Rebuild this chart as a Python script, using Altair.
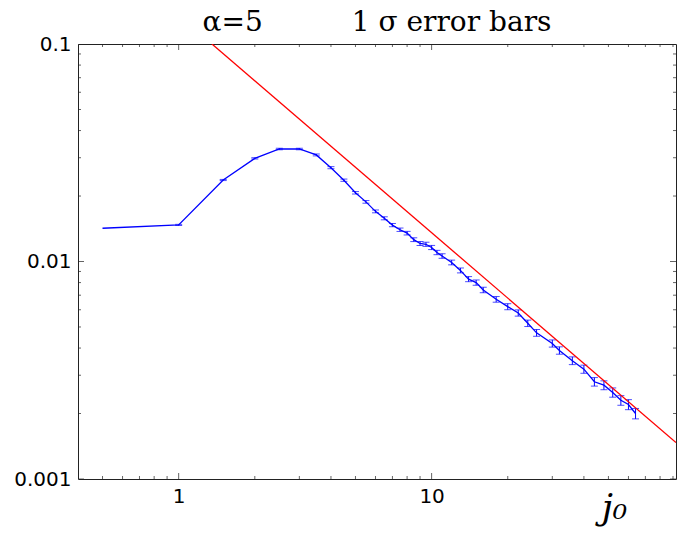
import altair as alt
import pandas as pd

# blue series: j0 and value, relative 1-sigma errors
j0 = [0.5, 1, 1.5, 2, 2.5, 3, 3.5, 4, 4.5, 5, 5.5, 6, 6.5, 7, 7.5, 8, 8.5, 9, 9.5, 10,
      10.5, 11, 12, 13, 14, 15, 16, 18, 20, 22, 24, 26, 30, 32, 36, 40, 44, 48, 52, 56, 60, 64]
value = [0.01422, 0.01473, 0.0237, 0.0298, 0.0329, 0.0329, 0.0309, 0.0270, 0.02365, 0.0207,
         0.0188, 0.0170, 0.0158, 0.0147, 0.0140, 0.0135, 0.0126, 0.0121, 0.0120, 0.0116,
         0.0110, 0.0106, 0.0099, 0.0091, 0.0083, 0.0080, 0.0074, 0.0067, 0.0062, 0.0058,
         0.0052, 0.0047, 0.0042, 0.0039, 0.0035, 0.0032, 0.0028, 0.0027, 0.0025, 0.0023,
         0.0022, 0.0020]
rel_err = [0.0, 0.006, 0.006, 0.007, 0.008, 0.008, 0.010, 0.011, 0.012, 0.013,
           0.014, 0.015, 0.016, 0.017, 0.018, 0.019, 0.020, 0.021, 0.022, 0.022,
           0.023, 0.024, 0.025, 0.026, 0.027, 0.028, 0.029, 0.030, 0.032, 0.033,
           0.034, 0.036, 0.038, 0.039, 0.041, 0.043, 0.045, 0.047, 0.049, 0.051,
           0.053, 0.055]

# red reference line end points
ref_x = [1.354, 92.5]
ref_y = [0.1, 0.00147]

# tick positions
x_major = [1, 10]
x_minor = [0.4, 0.5, 0.6, 0.7, 0.8, 0.9, 2, 3, 4, 5, 6, 7, 8, 9, 20, 30, 40, 50, 60, 70, 80, 90]
y_major = [0.001, 0.01, 0.1]
y_minor = [0.002, 0.003, 0.004, 0.005, 0.006, 0.007, 0.008, 0.009,
           0.02, 0.03, 0.04, 0.05, 0.06, 0.07, 0.08, 0.09]

W, H = 598, 435
MAJ, MIN = 12, 6  # doubled tick lengths (half is clipped away)

df = pd.DataFrame({"j0": j0, "v": value, "r": rel_err})
df["lo"] = df["v"] * (1 - df["r"])
df["hi"] = df["v"] * (1 + df["r"])
eb = df[df["r"] > 0]
ref = pd.DataFrame({"x": ref_x, "y": ref_y})
xt = pd.DataFrame({"t": x_major + x_minor, "len": [MAJ] * len(x_major) + [MIN] * len(x_minor)})
yt = pd.DataFrame({"t": y_major + y_minor, "len": [MAJ] * len(y_major) + [MIN] * len(y_minor)})

xs = alt.Scale(type="log", domain=[0.4, 92.5], nice=False)
ys = alt.Scale(type="log", domain=[0.001, 0.1], nice=False)

xaxis = alt.Axis(values=x_major, format="~g", ticks=False, domain=False, grid=False,
                 labelFont="DejaVu Sans", labelFontSize=20, labelColor="black", labelPadding=7,
                 title="j₀", titleFont="DejaVu Serif", titleFontStyle="italic", titleFontSize=36,
                 titleFontWeight="normal", titleColor="black", titleAlign="center",
                 titleBaseline="alphabetic", titleX=536, titleY=39)
yaxis = alt.Axis(values=y_major, format="~g", ticks=False, domain=False, grid=False,
                 labelFont="DejaVu Sans", labelFontSize=20, labelColor="black", labelPadding=7,
                 title=None)

BLUE = "#0000ff"

X = lambda f: alt.X(f, scale=xs, axis=xaxis, title="j₀")
Y = lambda f: alt.Y(f, scale=ys, axis=yaxis, title=None)

line = alt.Chart(df).mark_line(color=BLUE, strokeWidth=1.3).encode(
    x=X("j0:Q"), y=Y("v:Q"),
)
bars = alt.Chart(eb).mark_rule(color=BLUE, strokeWidth=1).encode(
    x=X("j0:Q"), y=Y("lo:Q"), y2="hi:Q",
)
cap_lo = alt.Chart(eb).mark_tick(color=BLUE, orient="horizontal", size=7, thickness=1).encode(
    x=X("j0:Q"), y=Y("lo:Q"),
)
cap_hi = alt.Chart(eb).mark_tick(color=BLUE, orient="horizontal", size=7, thickness=1).encode(
    x=X("j0:Q"), y=Y("hi:Q"),
)
red = alt.Chart(ref).mark_line(color="#ff0000", strokeWidth=1.3, clip=True).encode(
    x=X("x:Q"), y=Y("y:Q"),
)

def xticks(ypos):
    return alt.Chart(xt).mark_tick(color="#222222", orient="vertical", thickness=1, clip=True).encode(
        x=X("t:Q"),
        y=alt.value(ypos),
        size=alt.Size("len:Q", scale=None, legend=None),
    )

def yticks(xpos):
    return alt.Chart(yt).mark_tick(color="#222222", orient="horizontal", thickness=1, clip=True).encode(
        y=Y("t:Q"),
        x=alt.value(xpos),
        size=alt.Size("len:Q", scale=None, legend=None),
    )

title = alt.TitleParams(
    text="α=5" + "\u00a0" * 10 + "1 σ error bars",
    font="DejaVu Serif", fontSize=28, fontWeight="normal", color="black",
    anchor="middle", frame="group", offset=6, dy=9,
)

chart = alt.layer(
    line, bars, cap_lo, cap_hi, red, xticks(H), xticks(0), yticks(0), yticks(W)
).properties(
    width=W, height=H, title=title,
    autosize=alt.AutoSizeParams(type="none"),
    padding={"left": 70, "top": 36, "right": 16, "bottom": 49},
    background="white",
).configure_view(
    stroke="#222222", strokeWidth=1
)

chart.save("out.html", embed_options={"renderer": "svg", "actions": False})
